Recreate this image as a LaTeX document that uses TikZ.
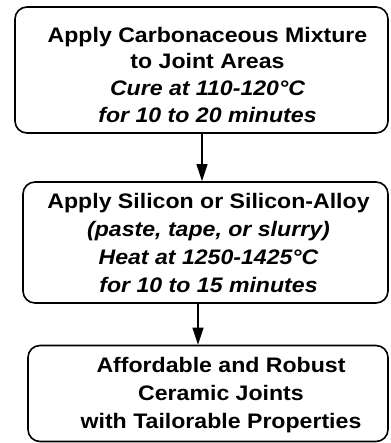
\documentclass[tikz,border=0pt]{standalone}
\usepackage{fontspec}
\setmainfont{Liberation Sans}[FakeStretch=1.1]
\usetikzlibrary{arrows.meta}

\begin{document}
\begin{tikzpicture}[x=1pt, y=1pt,
  stepbox/.style={draw, line width=1.6pt, rounded corners=12pt, inner sep=0pt},
  steptext/.style={anchor=north, align=center, inner sep=0pt, font=\fontsize{21}{27.5}\selectfont\bfseries},
  flow/.style={line width=1.2pt, -{Triangle[width=11pt, length=17pt]}}]
\useasboundingbox (0,0) rectangle (390,-443);
\node [stepbox, minimum width=373pt, minimum height=126pt] (mix) at (201.5,-70) {};
\node [stepbox, minimum width=365pt, minimum height=121pt] (sil) at (205.5,-242.5) {};
\node [stepbox, minimum width=360pt, minimum height=96pt] (joint) at (208,-393.5) {};
\node [steptext, font=\fontsize{21}{26.7}\selectfont\bfseries] (mixtext) at (207.5,-26.7) {Apply Carbonaceous Mixture\\to Joint Areas\\\itshape Cure at 110-120°C\\\itshape for 10 to 20 minutes};
\node [steptext, font=\fontsize{21}{28}\selectfont\bfseries] (siltext) at (208.5,-192.7) {Apply Silicon or Silicon-Alloy\\\itshape (paste, tape, or slurry)\\\itshape Heat at 1250-1425°C\\\itshape for 10 to 15 minutes};
\node [steptext, font=\fontsize{21}{28}\selectfont\bfseries] (jointtext) at (221,-356.7) {Affordable and Robust\\Ceramic Joints\\with Tailorable Properties};
\coordinate (a1) at (202,0);
\coordinate (a2) at (198,0);
\draw [flow] (mix.south -| a1) -- (sil.north -| a1);
\draw [flow] (sil.south -| a2) -- (joint.north -| a2);
\end{tikzpicture}
\end{document}
